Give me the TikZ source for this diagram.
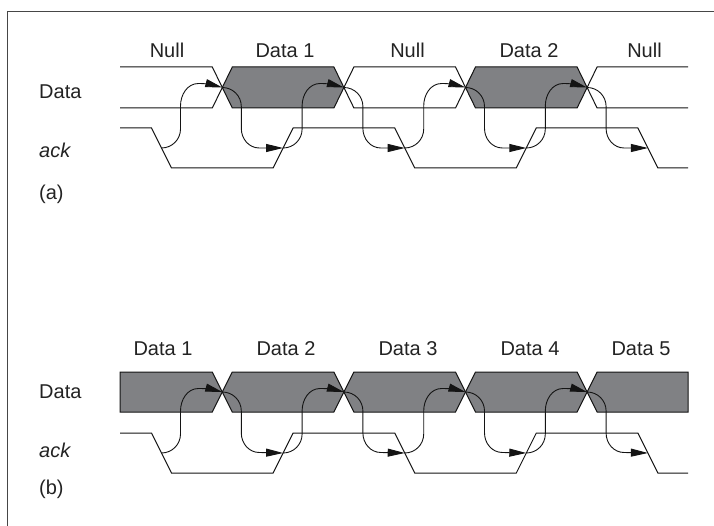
\documentclass[tikz,border=0pt]{standalone}
\usepackage{fontspec}
\setmainfont{Liberation Sans}
\usetikzlibrary{arrows.meta,calc}
\definecolor{boxgray}{RGB}{128,129,132}
\definecolor{linec}{RGB}{20,20,20}
\definecolor{framec}{RGB}{70,70,70}
\definecolor{textc}{RGB}{35,35,35}
\tikzset{
  sig/.style={draw=linec, line width=1pt, line join=miter},
  dbox/.style={sig, fill=boxgray},
  arr/.style={draw=linec, line width=0.9pt, -{Triangle[length=17pt,width=8pt]}},
  lbl/.style={font=\fontsize{20}{23}\selectfont, text=textc, inner sep=0pt, anchor=base},
  side/.style={lbl, anchor=base west},
}
\newcommand\arrUp[2]{\draw[arr] (#1) to[out=0,in=-90] ($(#1)+(19,-19)$) -- ($(#1)+(19,-42)$) to[out=90,in=180] ($(#1)+(37,-64.5)$) to[out=0,in=165] (#2);}
\newcommand\arrDown[2]{\draw[arr] (#1) to[out=0,in=90] ($(#1)+(19,19)$) -- ($(#1)+(19,41)$) to[out=-90,in=180] ($(#1)+(37,60.5)$) -- (#2);}
\begin{document}
\begin{tikzpicture}[x=1pt,y=-1pt]
\useasboundingbox (0,0) rectangle (714,526);
% frame
\draw[framec, line width=1pt] (7,526) -- (7,12) -- (714,12);

% ---------- panel (a) ----------
\coordinate (a0a) at (161.5,148);
\coordinate (d1a) at (222.3,87.5);
\coordinate (a2a) at (283.1,148);
\coordinate (d3a) at (343.9,87.5);
\coordinate (a4a) at (404.7,148);
\coordinate (d5a) at (465.5,87.5);
\coordinate (a6a) at (526.3,148);
\coordinate (d7a) at (587.1,87.5);
\coordinate (a8a) at (647.9,148);

\draw[sig] (120,67) -- (212.3,67) -- (d1a) -- (212.3,108) -- (120,108);
\draw[dbox] (d1a) -- (232.3,67) -- (333.9,67) -- (d3a) -- (333.9,108) -- (232.3,108) -- cycle;
\draw[sig] (d3a) -- (353.9,67) -- (455.5,67) -- (d5a) -- (455.5,108) -- (353.9,108) -- cycle;
\draw[dbox] (d5a) -- (475.5,67) -- (577.1,67) -- (d7a) -- (577.1,108) -- (475.5,108) -- cycle;
\draw[sig] (688,67) -- (597.1,67) -- (d7a) -- (597.1,108) -- (688,108);

\draw[sig] (120,128) -- (151.5,128) -- (171.5,168) -- (273.1,168) -- (293.1,128) -- (394.7,128) -- (414.7,168) -- (516.3,168) -- (536.3,128) -- (637.9,128) -- (657.9,168) -- (688,168);

\arrUp{a0a}{d1a}
\arrDown{d1a}{a2a}
\arrUp{a2a}{d3a}
\arrDown{d3a}{a4a}
\arrUp{a4a}{d5a}
\arrDown{d5a}{a6a}
\arrUp{a6a}{d7a}
\arrDown{d7a}{a8a}

\node[lbl] (ta1) at (167,58) {Null};
\node[lbl] (ta2) at (285,58) {Data 1};
\node[lbl] (ta3) at (407.5,58) {Null};
\node[lbl] (ta4) at (529,58) {Data 2};
\node[lbl] (ta5) at (644.5,58) {Null};

\node[side] (la1) at (39,99) {Data};
\node[side] (la2) at (39,158) {\itshape ack};
\node[side] (la3) at (39,200) {(a)};

% ---------- panel (b) ----------
\coordinate (a0b) at (161.5,453);
\coordinate (d1b) at (222.3,392);
\coordinate (a2b) at (283.1,453);
\coordinate (d3b) at (343.9,392);
\coordinate (a4b) at (404.7,453);
\coordinate (d5b) at (465.5,392);
\coordinate (a6b) at (526.3,453);
\coordinate (d7b) at (587.1,392);
\coordinate (a8b) at (647.9,453);

\draw[dbox] (120,372) -- (212.3,372) -- (d1b) -- (212.3,412) -- (120,412) -- cycle;
\draw[dbox] (d1b) -- (232.3,372) -- (333.9,372) -- (d3b) -- (333.9,412) -- (232.3,412) -- cycle;
\draw[dbox] (d3b) -- (353.9,372) -- (455.5,372) -- (d5b) -- (455.5,412) -- (353.9,412) -- cycle;
\draw[dbox] (d5b) -- (475.5,372) -- (577.1,372) -- (d7b) -- (577.1,412) -- (475.5,412) -- cycle;
\draw[dbox] (d7b) -- (597.1,372) -- (688,372) -- (688,412) -- (597.1,412) -- cycle;

\draw[sig] (120,433) -- (151.5,433) -- (171.5,473) -- (273.1,473) -- (293.1,433) -- (394.7,433) -- (414.7,473) -- (516.3,473) -- (536.3,433) -- (637.9,433) -- (657.9,473) -- (688,473);

\arrUp{a0b}{d1b}
\arrDown{d1b}{a2b}
\arrUp{a2b}{d3b}
\arrDown{d3b}{a4b}
\arrUp{a4b}{d5b}
\arrDown{d5b}{a6b}
\arrUp{a6b}{d7b}
\arrDown{d7b}{a8b}

\node[lbl] (tb1) at (163,355) {Data 1};
\node[lbl] (tb2) at (286,355) {Data 2};
\node[lbl] (tb3) at (408,355) {Data 3};
\node[lbl] (tb4) at (530,355) {Data 4};
\node[lbl] (tb5) at (641,355) {Data 5};

\node[side] (lb1) at (39,398) {Data};
\node[side] (lb2) at (39,457) {\itshape ack};
\node[side] (lb3) at (39,494) {(b)};
\end{tikzpicture}
\end{document}
